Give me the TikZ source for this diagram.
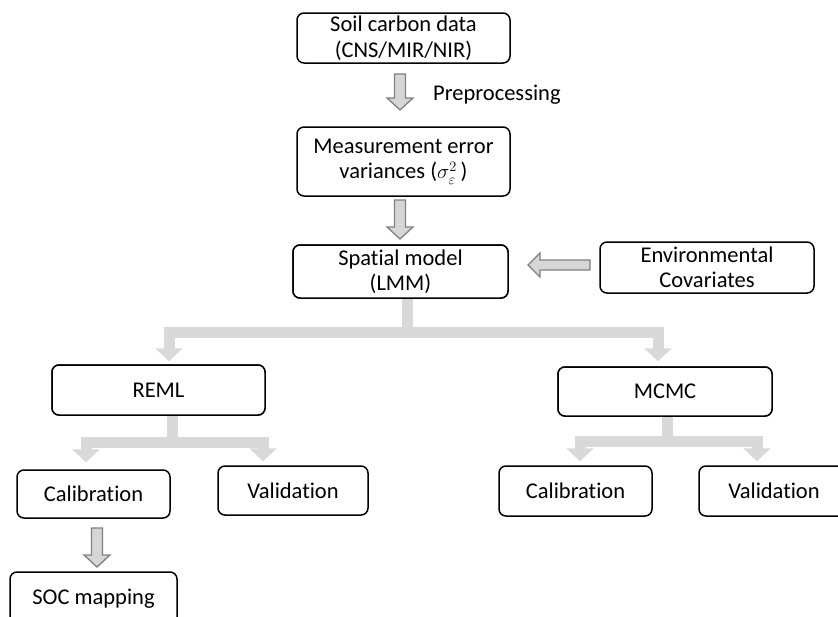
\documentclass[tikz,border=0pt]{standalone}
\usepackage{fontspec}
\setmainfont{Carlito}[Ligatures=NoCommon]
\usetikzlibrary{arrows.meta,calc}
\definecolor{barg}{HTML}{D9D9D9}
\definecolor{hfill}{HTML}{D6D6D6}
\definecolor{hline}{HTML}{808080}
\newcommand{\hdown}[3]{% x, ytop, ybottom (tip)
  \draw[harrow] (#1-5.5,#2) -- (#1+5.5,#2) -- (#1+5.5,#3-12) -- (#1+13,#3-12) -- (#1,#3) -- (#1-13,#3-12) -- (#1-5.5,#3-12) -- cycle;}
\begin{document}
\begin{tikzpicture}[x=1pt,y=-1pt,
  box/.style={draw=black, line width=1.5pt, rounded corners=7pt, align=center, inner sep=0pt,
    font=\fontsize{22.5}{25.5}\selectfont},
  harrow/.style={draw=hline, fill=hfill, line width=1.3pt, line join=miter},
  gbar/.style={draw=barg, line width=11pt, line join=miter, -{Triangle[width=27pt,length=13pt]}},
  lbl/.style={font=\fontsize{22.5}{25.5}\selectfont, inner sep=0pt}]
\useasboundingbox (0,0) rectangle (838,616);
\clip (0,0) rectangle (838,616);

\node[box, minimum width=215pt, minimum height=53pt] (spatial) at (400.5,271.5) {Spatial model\\(LMM)};
\node[box, minimum width=213pt, minimum height=50pt] (reml) at (158.5,390) {REML};
\node[box, minimum width=214pt, minimum height=49pt] (mcmc) at (665,391.5) {MCMC};

\coordinate (sstem) at ($(spatial.south)+(6.5,0)$);
\coordinate (rtip) at ($(reml.north)+(10.5,-3)$);
\coordinate (mtip) at ($(mcmc.north)+(-7,-5)$);
\draw[gbar] (sstem) -- (sstem |- 0,332.5) -| (rtip);
\draw[gbar] (sstem) -- (sstem |- 0,332.5) -| (mtip);

\node[box, minimum width=153pt, minimum height=48pt] (cal1) at (93.5,494) {Calibration};
\node[box, minimum width=150pt, minimum height=49pt] (val1) at (293,490.5) {Validation};
\node[box, minimum width=153pt, minimum height=50pt] (cal2) at (575.5,491) {Calibration};
\node[box, minimum width=150pt, minimum height=50pt] (val2) at (774,491) {Validation};

\coordinate (rstem) at ($(reml.south)+(13.5,0)$);
\coordinate (c1tip) at ($(cal1.north)+(-7.5,-7)$);
\coordinate (v1tip) at ($(val1.north)+(-30,-4)$);
\draw[gbar] (rstem) -- (rstem |- 0,442.5) -| (c1tip);
\draw[gbar] (rstem) -- (rstem |- 0,442.5) -| (v1tip);

\coordinate (mstem) at ($(mcmc.south)+(2.5,0)$);
\coordinate (c2tip) at ($(cal2.north)+(4.5,-4)$);
\coordinate (v2tip) at ($(val2.north)+(-17,-4)$);
\draw[gbar] (mstem) -- (mstem |- 0,441) -| (c2tip);
\draw[gbar] (mstem) -- (mstem |- 0,441) -| (v2tip);

\node[box, fill=white, minimum width=215pt, minimum height=53pt] at (spatial) {Spatial model\\(LMM)};
\node[box, fill=white, minimum width=213pt, minimum height=50pt] at (reml) {REML};
\node[box, fill=white, minimum width=214pt, minimum height=49pt] at (mcmc) {MCMC};

\node[box, minimum width=213pt, minimum height=50pt] (soil) at (403.5,38) {Soil carbon data\\(CNS/MIR/NIR)};
\node[box, minimum width=213pt, minimum height=69pt] (meas) at (403.5,161.5) {Measurement error\\variances ($\sigma^{2}_{\varepsilon}$\,)};
\node[box, minimum width=214pt, minimum height=51pt] (env) at (707,267.5) {Environmental\\Covariates};
\node[box, minimum width=167pt, minimum height=53pt] (soc) at (93.5,598.5) {SOC mapping};

\node[lbl, anchor=west] (pre) at (433,95) {Preprocessing};

\hdown{400}{74}{110}
\hdown{400}{200}{239}
\hdown{97}{528}{567}
\draw[harrow] (590,260) -- (590,270) -- (540,270) -- (540,277) -- (528,265) -- (540,253) -- (540,260) -- cycle;
\end{tikzpicture}
\end{document}
